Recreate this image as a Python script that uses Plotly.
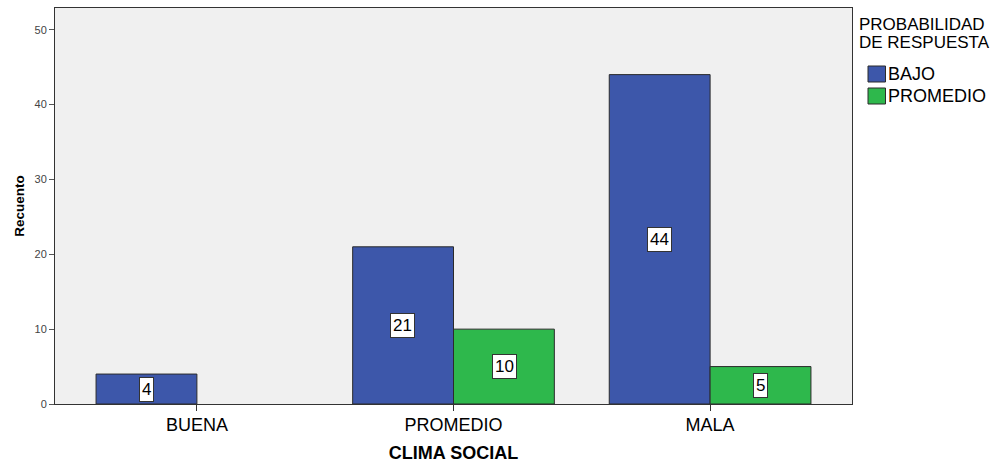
import plotly.graph_objects as go

categories = ["BUENA", "PROMEDIO", "MALA"]
bajo = [4, 21, 44]
promedio = [None, 10, 5]
series_names = ["BAJO", "PROMEDIO"]
legend_title = ["PROBABILIDAD", "DE RESPUESTA"]
y_ticks = [0, 10, 20, 30, 40, 50]

blue = "#3D57AA"
green = "#2EB84C"
edge = "#2B2B2B"
font = "Arial, Liberation Sans, sans-serif"

# plot area in pixels, used to place the hand-drawn legend
W, H = 1008, 463
ML, MR, MT, MB = 55, 156, 8, 59
PW, PH = W - ML - MR, H - MT - MB


def px_x(x):
    return (x - ML) / PW


def px_y(y):
    return (H - MB - y) / PH


fig = go.Figure()
colors = [blue, green]
for name, vals, col in zip(series_names, [bajo, promedio], colors):
    fig.add_trace(go.Bar(
        x=categories, y=vals, name=name, showlegend=False,
        marker=dict(color=col, line=dict(color=edge, width=1)),
        offsetgroup=name,
    ))

# value labels in white boxes at the middle of each bar
for i, cat in enumerate(categories):
    for j, vals in enumerate([bajo, promedio]):
        v = vals[i]
        if v is None:
            continue
        xoff = -0.197 if j == 0 else 0.197
        fig.add_annotation(
            x=i + xoff, y=v / 2, xref="x", yref="y",
            text=str(v), showarrow=False,
            font=dict(family=font, size=17, color="black"),
            bgcolor="white", bordercolor="#333333", borderwidth=1, borderpad=2,
        )

# legend: two-line title, then a swatch and label per series
for k, line in enumerate(legend_title):
    fig.add_annotation(
        x=px_x(857), y=px_y(24 + 19 * k), xref="paper", yref="paper",
        xanchor="left", yanchor="middle", text=line, showarrow=False,
        font=dict(family=font, size=17, color="black"),
    )
for k, (name, col) in enumerate(zip(series_names, colors)):
    cy = 74 + 22 * k
    fig.add_shape(
        type="rect", xref="paper", yref="paper",
        x0=px_x(868), x1=px_x(885.5), y0=px_y(cy - 8), y1=px_y(cy + 8),
        fillcolor=col, line=dict(color=edge, width=1),
    )
    fig.add_annotation(
        x=px_x(886), y=px_y(cy), xref="paper", yref="paper",
        xanchor="left", yanchor="middle", text=name, showarrow=False,
        font=dict(family=font, size=18, color="black"),
    )

fig.update_layout(
    width=W, height=H,
    margin=dict(l=ML, r=MR, t=MT, b=MB),
    paper_bgcolor="white", plot_bgcolor="#F0F0F0",
    barmode="group", bargap=0.214, bargroupgap=0,
    font=dict(family=font),
    showlegend=False,
    xaxis=dict(
        type="category", range=[-0.553, 2.553], automargin=False,
        showline=True, linecolor="#333333", linewidth=1, mirror=True,
        ticks="outside", ticklen=6, tickcolor="#333333",
        ticklabelstandoff=-2,
        tickfont=dict(size=18, color="black", family=font),
        title=dict(text="<b>CLIMA SOCIAL</b>", font=dict(size=18, color="black", family=font), standoff=16),
        showgrid=False,
    ),
    yaxis=dict(
        range=[0, 52.9], tickvals=y_ticks, automargin=False,
        showline=True, linecolor="#333333", linewidth=1, mirror=True,
        ticks="outside", ticklen=5, tickcolor="#555555",
        tickfont=dict(size=11, color="#444444", family=font),
        title=dict(text="<b>Recuento</b>", font=dict(size=13.5, color="black", family=font), standoff=6),
        showgrid=False, zeroline=False,
    ),
)

fig.write_html("out.html")
